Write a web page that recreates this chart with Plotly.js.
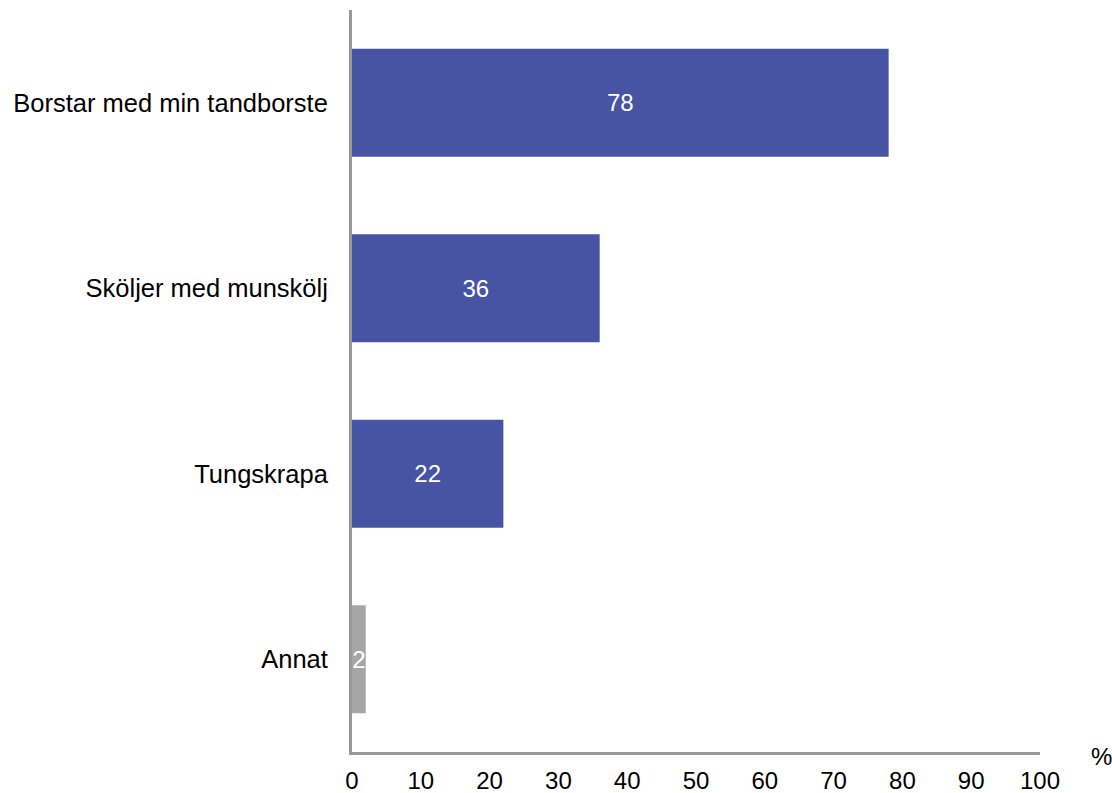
<!DOCTYPE html>
<html>
<head>
<meta charset="utf-8">
<script src="https://cdn.plot.ly/plotly-3.0.1.min.js"></script>
<style>
  html, body { margin: 0; padding: 0; background: #fff; }
  #chart { width: 1112px; height: 793px; }
</style>
</head>
<body>
<div id="chart"></div>
<script>
const categories = ["Borstar med min tandborste", "Sköljer med munskölj", "Tungskrapa", "Annat"];
const values = [78, 36, 22, 2];
const barColors = ["#4754a4", "#4754a4", "#4754a4", "#a6a6a6"];
const xTicks = [0, 10, 20, 30, 40, 50, 60, 70, 80, 90, 100];

const font = "Liberation Sans, Arial, sans-serif";

Plotly.newPlot(
  "chart",
  [
    {
      type: "bar",
      orientation: "h",
      x: values,
      y: categories,
      text: values.map(String),
      textposition: "inside",
      insidetextanchor: "middle",
      textangle: 0,
      constraintext: "none",
      textfont: { family: font, size: 24, color: "#ffffff" },
      marker: { color: barColors },
      hoverinfo: "none"
    }
  ],
  {
    width: 1112,
    height: 793,
    paper_bgcolor: "#ffffff",
    plot_bgcolor: "#ffffff",
    margin: { l: 352, r: 72, t: 10, b: 41 },
    bargap: 0.417,
    showlegend: false,
    font: { family: font, size: 24, color: "#000000" },
    xaxis: {
      range: [0, 100],
      tickvals: xTicks,
      ticktext: xTicks.map(String),
      showgrid: false,
      zeroline: false,
      showline: true,
      linecolor: "#999999",
      linewidth: 3,
      ticks: "",
      ticklabelstandoff: 5,
      tickfont: { family: font, size: 24, color: "#000000" },
      fixedrange: true
    },
    yaxis: {
      autorange: "reversed",
      range: [3.5, -0.5],
      showgrid: false,
      zeroline: false,
      showline: true,
      linecolor: "#999999",
      linewidth: 3,
      ticks: "",
      ticklabelstandoff: 16,
      tickfont: { family: font, size: 25.5, color: "#000000" },
      fixedrange: true
    },
    annotations: [
      {
        text: "%",
        xref: "paper",
        yref: "paper",
        x: 1.0,
        y: 0,
        xshift: 61,
        yshift: -4,
        xanchor: "center",
        yanchor: "middle",
        showarrow: false,
        font: { family: font, size: 24, color: "#000000" }
      }
    ]
  },
  { displayModeBar: false, staticPlot: true }
);
</script>
</body>
</html>
